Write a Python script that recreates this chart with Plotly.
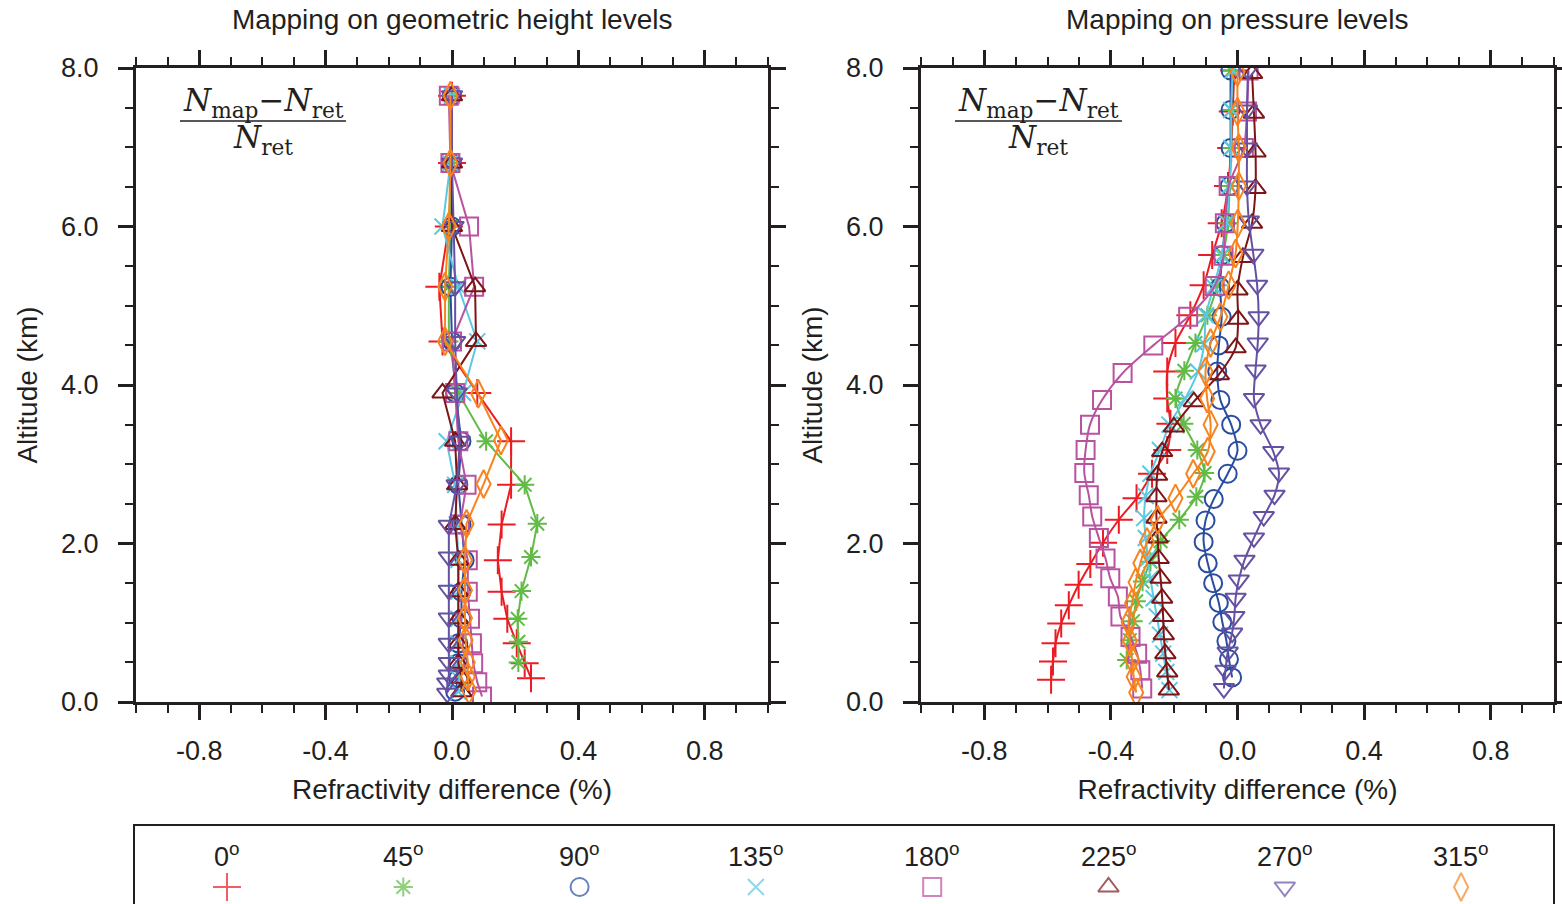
import plotly.graph_objects as go

# ---------------- data ----------------
angles = ["0", "45", "90", "135", "180", "225", "270", "315"]
colors = ["#ec1c24", "#62bb46", "#2a4da0", "#5cc8e2", "#b9529f", "#7d1416", "#6650a2", "#f7841f"]
symbols = ["cross-thin", "asterisk", "circle-open", "x-thin", "square-open",
           "triangle-up-open", "triangle-down-open", "diamond-tall-open"]

# Left panel: mapping on geometric height levels (altitude km, difference %)
h_alt_0 = [0.30, 0.49, 0.74, 1.05, 1.39, 1.79, 2.24, 2.74, 3.29, 3.90, 4.55, 5.24, 6.00, 6.80, 7.65]
h_val_0 = [0.25, 0.23, 0.205, 0.175, 0.157, 0.145, 0.157, 0.187, 0.187, 0.08, -0.03, -0.04, -0.01, 0.0, 0.0]
h_alt_45 = [0.50, 0.76, 1.05, 1.40, 1.83, 2.25, 2.74, 3.29, 3.90, 4.55, 5.24, 6.00, 6.80, 7.65]
h_val_45 = [0.21, 0.21, 0.208, 0.22, 0.25, 0.27, 0.23, 0.108, 0.02, -0.01, -0.01, -0.005, 0.0, 0.0]
h_alt_90 = [0.13, 0.30, 0.49, 0.74, 1.05, 1.39, 1.79, 2.24, 2.74, 3.29, 3.90, 4.55, 5.24, 6.00, 6.80, 7.65]
h_val_90 = [0.01, 0.02, 0.02, 0.02, 0.03, 0.03, 0.04, 0.03, 0.02, 0.03, 0.01, 0.0, -0.005, 0.0, 0.0, 0.0]
h_alt_135 = [0.13, 0.30, 0.49, 0.74, 1.05, 1.39, 1.79, 2.24, 2.74, 3.29, 3.90, 4.55, 5.24, 6.00, 6.80, 7.65]
h_val_135 = [0.02, 0.02, 0.02, 0.02, 0.02, 0.02, 0.02, 0.015, 0.01, -0.017, 0.035, 0.08, 0.02, -0.03, -0.005, 0.0]
h_alt_180 = [0.07, 0.25, 0.49, 0.74, 1.05, 1.39, 1.79, 2.24, 2.74, 3.29, 3.90, 4.55, 5.24, 6.00, 6.80, 7.65]
h_val_180 = [0.095, 0.08, 0.067, 0.063, 0.057, 0.05, 0.05, 0.025, 0.046, 0.02, 0.01, 0.0, 0.07, 0.054, -0.005, -0.01]
h_alt_225 = [0.13, 0.30, 0.49, 0.74, 1.05, 1.39, 1.79, 2.24, 2.74, 3.29, 3.90, 4.55, 5.24, 6.00, 6.80, 7.65]
h_val_225 = [0.03, 0.03, 0.02, 0.02, 0.02, 0.02, 0.02, 0.01, 0.016, 0.01, -0.03, 0.076, 0.073, 0.0, 0.0, 0.0]
h_alt_270 = [0.11, 0.24, 0.34, 0.50, 0.74, 1.06, 1.41, 1.83, 2.23, 2.74, 3.29, 3.90, 4.55, 5.24, 6.00, 6.80, 7.65]
h_val_270 = [-0.015, -0.015, -0.01, -0.01, -0.01, -0.01, -0.01, -0.01, -0.01, 0.015, 0.025, 0.015, 0.01, 0.01, 0.005, 0.0, 0.0]
h_alt_315 = [0.15, 0.32, 0.50, 0.78, 1.06, 1.41, 1.79, 2.25, 2.75, 3.30, 3.89, 4.55, 5.24, 6.00, 6.80, 7.65]
h_val_315 = [0.054, 0.05, 0.05, 0.043, 0.041, 0.041, 0.041, 0.046, 0.10, 0.155, 0.083, -0.022, -0.022, -0.01, -0.005, -0.005]

# Right panel: mapping on pressure levels
p_alt_0 = [0.28, 0.51, 0.74, 0.99, 1.22, 1.48, 1.74, 2.01, 2.30, 2.57, 2.88, 3.18, 3.51, 3.83, 4.17, 4.53, 4.88, 5.26, 5.64, 6.04, 6.51, 6.99, 7.45, 7.97]
p_val_0 = [-0.589, -0.583, -0.575, -0.557, -0.533, -0.502, -0.465, -0.425, -0.375, -0.319, -0.27, -0.222, -0.212, -0.222, -0.222, -0.196, -0.149, -0.107, -0.08, -0.05, -0.03, -0.02, -0.015, -0.01]
p_alt_45 = [0.53, 0.78, 1.02, 1.27, 1.52, 1.77, 2.03, 2.30, 2.59, 2.89, 3.18, 3.51, 3.83, 4.18, 4.53, 4.88, 5.26, 5.64, 6.04, 6.51, 6.99, 7.47, 7.97]
p_val_45 = [-0.35, -0.34, -0.33, -0.32, -0.30, -0.275, -0.243, -0.184, -0.13, -0.104, -0.127, -0.17, -0.196, -0.168, -0.133, -0.095, -0.064, -0.045, -0.03, -0.025, -0.02, -0.02, -0.02]
p_alt_90 = [0.31, 0.54, 0.77, 1.01, 1.25, 1.50, 1.75, 2.02, 2.29, 2.56, 2.88, 3.17, 3.50, 3.81, 4.17, 4.50, 4.86, 5.24, 5.64, 6.04, 6.51, 6.99, 7.47, 7.97]
p_val_90 = [-0.017, -0.027, -0.035, -0.048, -0.059, -0.077, -0.094, -0.107, -0.101, -0.075, -0.031, 0.0, -0.02, -0.054, -0.064, -0.059, -0.05, -0.055, -0.048, -0.038, -0.025, -0.022, -0.022, -0.022]
p_alt_135 = [0.15, 0.38, 0.61, 0.85, 1.08, 1.31, 1.56, 1.81, 2.07, 2.32, 2.60, 2.88, 3.18, 3.50, 3.83, 4.17, 4.52, 4.88, 5.24, 5.63, 6.05, 6.51, 6.99, 7.47, 7.97]
p_val_135 = [-0.215, -0.225, -0.235, -0.245, -0.255, -0.265, -0.275, -0.283, -0.29, -0.295, -0.29, -0.275, -0.245, -0.215, -0.165, -0.125, -0.105, -0.1, -0.075, -0.05, -0.035, -0.025, -0.02, -0.02, -0.015]
p_alt_180 = [0.17, 0.40, 0.61, 0.82, 1.08, 1.33, 1.56, 1.81, 2.07, 2.34, 2.61, 2.89, 3.18, 3.50, 3.81, 4.15, 4.50, 4.86, 5.25, 5.63, 6.04, 6.51, 6.99, 7.45, 7.97]
p_val_180 = [-0.301, -0.307, -0.317, -0.338, -0.37, -0.378, -0.402, -0.417, -0.438, -0.459, -0.47, -0.484, -0.48, -0.466, -0.428, -0.363, -0.266, -0.156, -0.072, -0.044, -0.04, -0.028, 0.02, 0.03, 0.035]
p_alt_225 = [0.15, 0.38, 0.61, 0.85, 1.08, 1.31, 1.56, 1.81, 2.07, 2.32, 2.59, 2.86, 3.16, 3.47, 3.79, 4.13, 4.47, 4.83, 5.20, 5.61, 6.04, 6.48, 6.94, 7.43, 7.93]
p_val_225 = [-0.217, -0.222, -0.228, -0.233, -0.235, -0.238, -0.243, -0.249, -0.252, -0.256, -0.256, -0.254, -0.238, -0.201, -0.138, -0.059, -0.006, 0.002, 0.0, 0.017, 0.046, 0.057, 0.057, 0.052, 0.046]
p_alt_270 = [0.17, 0.40, 0.63, 0.87, 1.08, 1.31, 1.54, 1.79, 2.07, 2.34, 2.61, 2.89, 3.16, 3.50, 3.83, 4.19, 4.53, 4.86, 5.26, 5.65, 6.07, 6.51, 6.99, 7.47, 7.97]
p_val_270 = [-0.043, -0.038, -0.031, -0.017, -0.01, -0.006, 0.004, 0.022, 0.052, 0.083, 0.117, 0.131, 0.113, 0.073, 0.052, 0.057, 0.064, 0.067, 0.062, 0.05, 0.036, 0.03, 0.03, 0.03, 0.033]
p_alt_315 = [0.12, 0.32, 0.53, 0.77, 1.01, 1.25, 1.51, 1.75, 2.02, 2.30, 2.57, 2.88, 3.16, 3.50, 3.83, 4.17, 4.53, 4.86, 5.26, 5.66, 6.04, 6.51, 6.99, 7.45, 7.95]
p_val_315 = [-0.32, -0.328, -0.333, -0.34, -0.344, -0.333, -0.322, -0.307, -0.286, -0.252, -0.196, -0.14, -0.094, -0.085, -0.096, -0.101, -0.085, -0.054, -0.028, -0.006, 0.001, 0.004, 0.004, 0.0, 0.0]

height_series = [(h_alt_0, h_val_0), (h_alt_45, h_val_45), (h_alt_90, h_val_90), (h_alt_135, h_val_135),
                 (h_alt_180, h_val_180), (h_alt_225, h_val_225), (h_alt_270, h_val_270), (h_alt_315, h_val_315)]
pressure_series = [(p_alt_0, p_val_0), (p_alt_45, p_val_45), (p_alt_90, p_val_90), (p_alt_135, p_val_135),
                   (p_alt_180, p_val_180), (p_alt_225, p_val_225), (p_alt_270, p_val_270), (p_alt_315, p_val_315)]

x_ticks = [-0.8, -0.4, 0.0, 0.4, 0.8]
y_ticks = [0.0, 2.0, 4.0, 6.0, 8.0]

FONT = "Liberation Sans, Arial, sans-serif"
INK = "#231f20"
W, H = 1562, 904

def msize(sym):
    return {"cross-thin": 20, "asterisk": 16, "circle-open": 18, "x-thin": 16,
            "square-open": 18, "triangle-up-open": 18, "triangle-down-open": 18,
            "diamond-tall-open": 20}[sym]

fig = go.Figure()
for i, ang in enumerate(angles):
    for panel, series, shape in ((1, height_series, "linear"), (2, pressure_series, "spline")):
        alt, val = series[i]
        fig.add_trace(go.Scatter(
            x=val, y=alt, mode="lines+markers", name=ang + "°", showlegend=False,
            xaxis="x" if panel == 1 else "x2", yaxis="y" if panel == 1 else "y2",
            line=dict(color=colors[i], width=2, shape=shape, smoothing=0.8),
            marker=dict(symbol=symbols[i], size=msize(symbols[i]), color=colors[i],
                        line=dict(color=colors[i], width=2)),
        ))

# legend markers drawn on a hidden helper axis
fig.add_trace(go.Scatter(
    x=list(range(len(angles))), y=[0] * len(angles), mode="markers", showlegend=False,
    xaxis="x3", yaxis="y3",
    marker=dict(symbol=symbols, size=[msize(s) for s in symbols], color=colors,
                line=dict(color=colors, width=2)),
))

def px_x(p):
    return p / W

def px_y(p):
    return 1 - p / H

dom_y = [px_y(702), px_y(68)]
common_x = dict(range=[-1, 1], tickmode="array", tickvals=x_ticks,
                ticktext=[f"{v:.1f}" for v in x_ticks], automargin=False,
                showline=True, linecolor=INK, linewidth=3, mirror="allticks",
                ticks="outside", ticklen=15, tickwidth=3, tickcolor=INK,
                minor=dict(tick0=0, dtick=0.1, ticks="outside", ticklen=8, tickwidth=2, tickcolor=INK),
                showgrid=False, zeroline=False, ticklabelstandoff=8,
                tickfont=dict(family=FONT, size=27, color=INK),
                title=dict(text="Refractivity difference (%)", standoff=14,
                           font=dict(family=FONT, size=28, color=INK)))
common_y = dict(range=[0, 8], tickmode="array", tickvals=y_ticks,
                ticktext=[f"{v:.1f}" for v in y_ticks], automargin=False,
                showline=True, linecolor=INK, linewidth=3, mirror="allticks",
                ticks="outside", ticklen=15, tickwidth=3, tickcolor=INK,
                minor=dict(tick0=0, dtick=0.5, ticks="outside", ticklen=8, tickwidth=2, tickcolor=INK),
                showgrid=False, zeroline=False, ticklabelstandoff=14, domain=dom_y,
                tickfont=dict(family=FONT, size=27, color=INK),
                title=dict(text="Altitude (km)", standoff=16,
                           font=dict(family=FONT, size=28, color=INK)))

fig.update_layout(
    width=W, height=H, margin=dict(l=0, r=0, t=0, b=0, autoexpand=False),
    paper_bgcolor="white", plot_bgcolor="white", showlegend=False,
    xaxis=dict(common_x, domain=[px_x(136), px_x(768)], anchor="y"),
    yaxis=dict(common_y, anchor="x"),
    xaxis2=dict(common_x, domain=[px_x(921), px_x(1554)], anchor="y2"),
    yaxis2=dict(common_y, anchor="x2"),
    xaxis3=dict(domain=[0, 1], range=[-227 / 176.3, (W - 227) / 176.3], visible=False,
                anchor="y3", fixedrange=True, automargin=False),
    yaxis3=dict(domain=[0, 34 / H], range=[-1, 1], visible=False, anchor="x3",
                fixedrange=True, automargin=False),
)

ann = []
# panel titles
for cx, txt in ((452, "Mapping on geometric height levels"), (1237, "Mapping on pressure levels")):
    ann.append(dict(x=px_x(cx), y=px_y(19), xref="paper", yref="paper", text=txt, showarrow=False,
                    xanchor="center", yanchor="middle", font=dict(family=FONT, size=28, color=INK)))
# formula
SERIF = "DejaVu Serif, Liberation Serif, serif"
for cx in (263, 1038):
    ann.append(dict(x=px_x(cx), y=px_y(102), xref="paper", yref="paper",
                    text="<i>N</i><sub>map</sub>\u2212<i>N</i><sub>ret</sub>", showarrow=False,
                    xanchor="center", yanchor="middle", font=dict(family=SERIF, size=31, color=INK)))
    ann.append(dict(x=px_x(cx), y=px_y(139), xref="paper", yref="paper",
                    text="<i>N</i><sub>ret</sub>", showarrow=False,
                    xanchor="center", yanchor="middle", font=dict(family=SERIF, size=31, color=INK)))
# legend labels
for i, ang in enumerate(angles):
    ann.append(dict(x=i, y=px_y(855), xref="x3", yref="paper", text=ang + "<sup>o</sup>",
                    showarrow=False, xanchor="center", yanchor="middle",
                    font=dict(family=FONT, size=27, color=INK)))
fig.update_layout(annotations=ann)

shapes = []
for x0, x1 in ((180, 346), (955, 1122)):
    shapes.append(dict(type="line", xref="paper", yref="paper", x0=px_x(x0), x1=px_x(x1),
                       y0=px_y(121), y1=px_y(121), line=dict(color=INK, width=1.5)))
shapes.append(dict(type="rect", xref="paper", yref="paper", x0=px_x(134), x1=px_x(1554),
                   y0=px_y(960), y1=px_y(825), line=dict(color=INK, width=2)))
fig.update_layout(shapes=shapes)

fig.write_html("out.html")
